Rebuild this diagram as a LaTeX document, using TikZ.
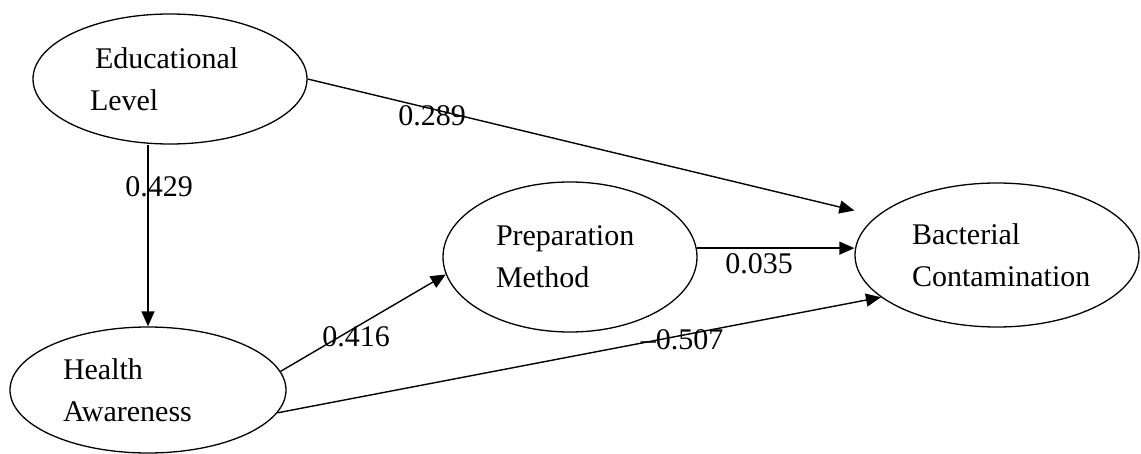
\documentclass[tikz,border=0pt]{standalone}
\usepackage{fontspec}
\setmainfont{Liberation Serif}
\usepackage{tikz}
\usetikzlibrary{shapes,arrows.meta}
\tikzstyle{construct} = [ellipse, draw, line width=1.3pt, inner sep=0pt, align=left, font=\fontsize{30}{42}\selectfont]
\tikzstyle{weight} = [inner sep=0pt, font=\fontsize{30}{36}\selectfont]
\tikzstyle{line} = [draw, line width=1.4pt, -{Triangle[length=15pt, width=13pt]}]

\begin{document}
\begin{tikzpicture}[x=1pt, y=-1pt]
        \useasboundingbox (0,0) rectangle (1141,454);
        % Place nodes
        \node [construct, minimum width=274pt, minimum height=130pt, text width=160pt] (edu) at (170,79) {\,Educational\\Level};
        \node [construct, minimum width=276pt, minimum height=126pt, text width=170pt] (health) at (148,390) {Health\\Awareness};
        \node [construct, minimum width=254pt, minimum height=150pt, text width=148pt] (prep) at (570,257) {Preparation\\Method};
        \node [construct, minimum width=284pt, minimum height=144pt, text width=170pt] (bact) at (997,255) {Bacterial\\Contamination};
        % Path weights
        \node [weight] (w429) at (159,187) {0.429};
        \node [weight] (w289) at (432,116) {0.289};
        \node [weight] (w416) at (356,337) {0.416};
        \node [weight] (w035) at (759,264) {0.035};
        \node [weight] (w507) at (682,340) {\textendash0.507};
        % Draw edges
        \path [line] (edu.south -| health.north) -- (health.north);
        \path [line, shorten >=23pt] (edu.east) -- (bact.162);
        \path [line] (health.8) -- (prep.188);
        \path [line] (prep.4) -- (prep.4 -| bact.west);
        \path [line] (health.-10) -- (bact.200);
    \end{tikzpicture}
\end{document}
